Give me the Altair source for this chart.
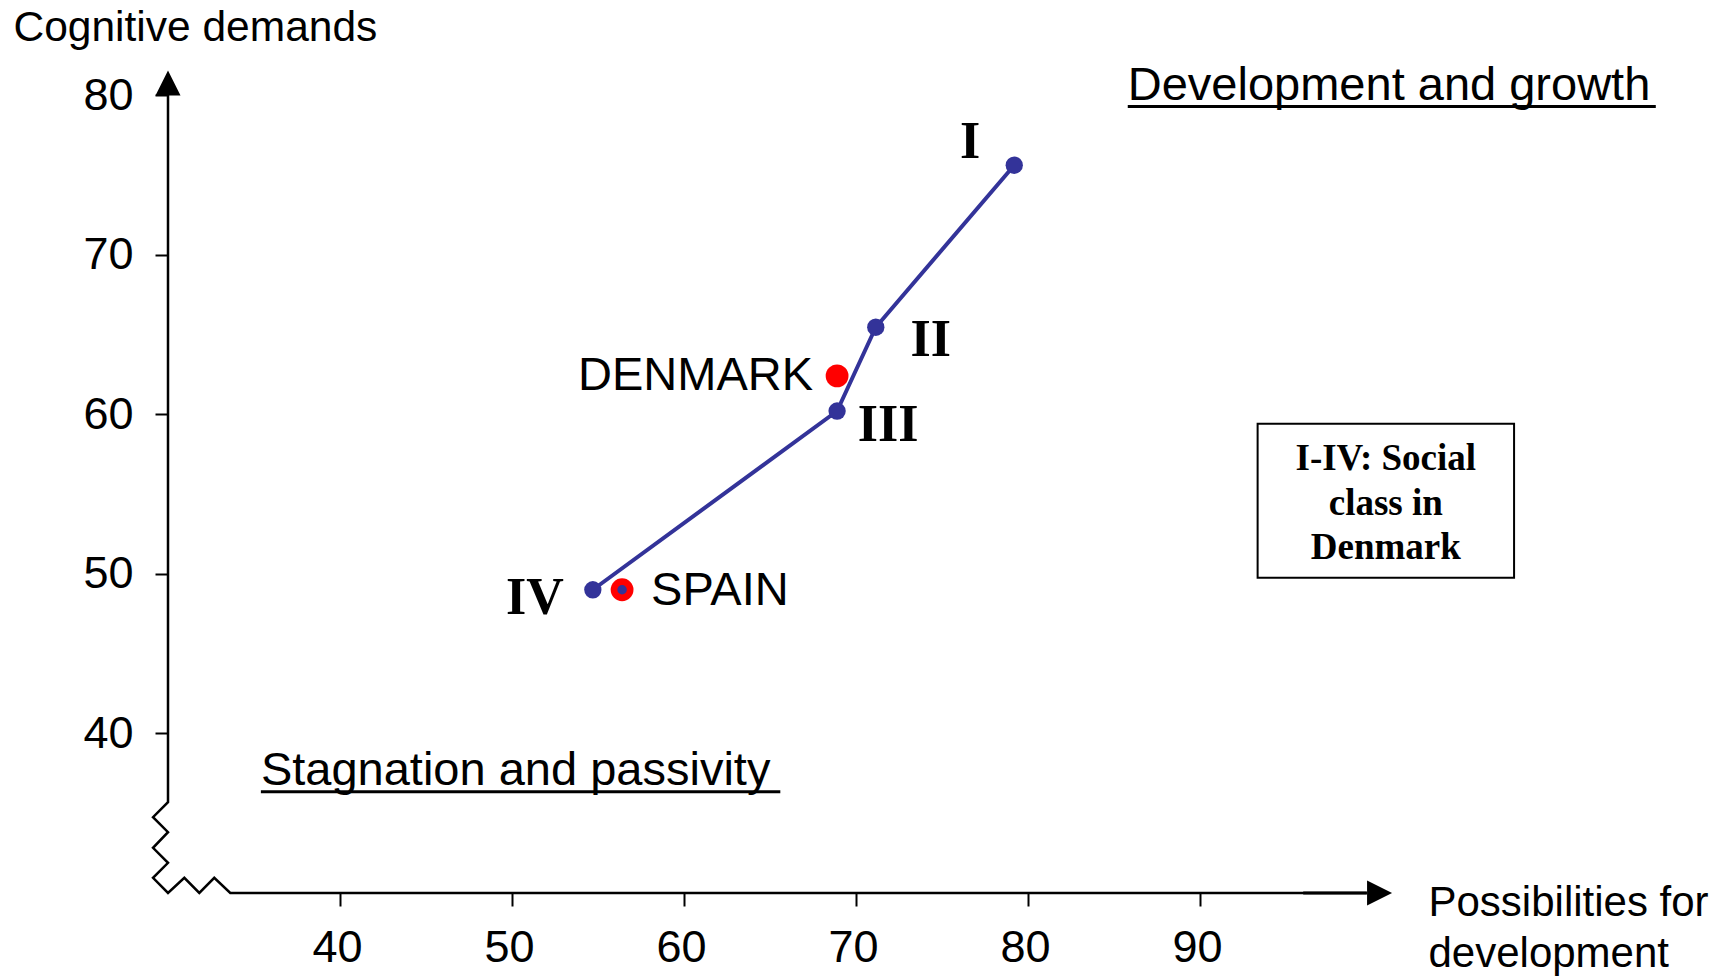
import altair as alt
import pandas as pd

# ---- data ----
classes = ["I", "II", "III", "IV"]
class_x = [79.2, 71.15, 68.9, 54.7]
class_y = [75.6, 65.45, 60.2, 49.0]

countries = ["DENMARK", "SPAIN"]
country_x = [68.9, 56.4]
country_y = [62.4, 49.0]

x_ticks = [40, 50, 60, 70, 80, 90]
y_ticks = [40, 50, 60, 70, 80]

x_title = ["Possibilities for", "development"]
y_title = "Cognitive demands"
legend_lines = "I-IV: Social\nclass in\nDenmark"
corner_top = "Development and growth"
corner_bottom = "Stagnation and passivity"

# ---- annotation layout (data coordinates) ----
axis_path_x = [30, 30, 29.13, 30, 29.13, 30, 29.13, 30, 30.95, 31.82, 32.69, 33.62, 99.7]
axis_path_y = [80, 35.69, 34.75, 33.81, 32.83, 31.89, 30.95, 30, 30.95, 30, 30.95, 30, 30]

BLUE = "#333399"
RED = "#FF0000"
SANS = "Liberation Sans"
SERIF = "Liberation Serif"

X_DOMAIN = [30, 100]
Y_DOMAIN = [30, 80]

xs = alt.Scale(domain=X_DOMAIN, nice=False, zero=False)
ys = alt.Scale(domain=Y_DOMAIN, nice=False, zero=False)

x_axis = alt.Axis(
    values=x_ticks, domain=False, grid=False,
    tickSize=13, tickWidth=2, tickColor="black",
    labelFont=SANS, labelFontSize=45, labelColor="black", labelPadding=19,
    labelFlush=False, labelOffset=-3,
    title=x_title, titleAngle=0, titleAlign="left", titleBaseline="alphabetic",
    titleX=1260, titleY=22, titleLineHeight=51,
    titleFont=SANS, titleFontSize=42, titleFontWeight="normal", titleColor="black",
)
y_axis = alt.Axis(
    values=y_ticks, domain=False, grid=False,
    tickSize=13, tickWidth=2, tickColor="black",
    labelFont=SANS, labelFontSize=45, labelColor="black", labelPadding=22,
    title=y_title, titleAngle=0, titleAlign="left", titleBaseline="alphabetic",
    titleX=-155, titleY=-55,
    titleFont=SANS, titleFontSize=42.5, titleFontWeight="normal", titleColor="black",
)

X = alt.X("x:Q", scale=xs, axis=x_axis)
Y = alt.Y("y:Q", scale=ys, axis=y_axis)

df_class = pd.DataFrame({"label": classes, "x": class_x, "y": class_y, "i": range(len(classes))})
df_country = pd.DataFrame({"label": countries, "x": country_x, "y": country_y})
df_axis = pd.DataFrame({"x": axis_path_x, "y": axis_path_y, "i": range(len(axis_path_x))})

# axis lines with break zigzag
axis_line = alt.Chart(df_axis).mark_line(color="black", strokeWidth=2.5).encode(
    x=X, y=Y, order="i:Q")

arrow_seg = alt.Chart(pd.DataFrame({"x": [96.0], "x2": [99.7], "y": [30.0]})).mark_rule(
    color="black", strokeWidth=3).encode(x=X, x2="x2:Q", y=Y)

arrow_up = alt.Chart(pd.DataFrame({"x": [30.0], "y": [80.75]})).mark_point(
    shape="M0,-1L1,1L-1,1Z", filled=True, size=625, color="black", opacity=1).encode(x=X, y=Y)
arrow_right = alt.Chart(pd.DataFrame({"x": [100.44], "y": [30.0]})).mark_point(
    shape="M1,0L-1,-1L-1,1Z", filled=True, size=625, color="black", opacity=1).encode(x=X, y=Y)

# class series
cls_line = alt.Chart(df_class).mark_line(color=BLUE, strokeWidth=4).encode(x=X, y=Y, order="i:Q")
cls_pts = alt.Chart(df_class).mark_point(filled=True, size=300, color=BLUE, opacity=1).encode(x=X, y=Y)

label_dx = {"I": -44, "II": 55, "III": 51, "IV": -58}
label_dy = {"I": -23, "II": 13, "III": 14, "IV": 8}
cls_labels = [
    alt.Chart(df_class).transform_filter(alt.datum.label == c).mark_text(
        font=SERIF, fontWeight="bold", fontSize=52, color="black",
        align="center", baseline="middle", dx=label_dx[c], dy=label_dy[c]
    ).encode(x=X, y=Y, text="label:N")
    for c in classes
]

# countries
ctry_pts = alt.Chart(df_country).mark_point(filled=True, size=520, color=RED, opacity=1).encode(x=X, y=Y)
spain_inner = alt.Chart(df_country).transform_filter(alt.datum.label == "SPAIN").mark_point(
    filled=True, size=90, color=BLUE, opacity=1).encode(x=X, y=Y)
dk_text = alt.Chart(df_country).transform_filter(alt.datum.label == "DENMARK").mark_text(
    font=SANS, fontSize=47, color="black", align="right", baseline="middle", dx=-24, dy=0
).encode(x=X, y=Y, text="label:N")
es_text = alt.Chart(df_country).transform_filter(alt.datum.label == "SPAIN").mark_text(
    font=SANS, fontSize=47, color="black", align="left", baseline="middle", dx=29, dy=1
).encode(x=X, y=Y, text="label:N")

# corner annotations with underline
corner_df = pd.DataFrame({"text": [corner_top, corner_bottom], "x": [85.8, 35.4], "y": [79.69, 36.74]})
corner_txt = alt.Chart(corner_df).mark_text(
    font=SANS, fontSize=47, color="black", align="left", baseline="alphabetic"
).encode(x=X, y=Y, text="text:N")
under_df = pd.DataFrame({"x": [85.8, 35.4], "x2": [116.5, 65.6], "y": [79.28, 36.34]})
underline = alt.Chart(under_df).mark_rule(color="black", strokeWidth=3).encode(x=X, x2="x2:Q", y=Y)

# legend box
box_df = pd.DataFrame({"x": [93.35], "x2": [108.26], "y": [59.4], "y2": [49.75]})
box = alt.Chart(box_df).mark_rect(fill="white", stroke="black", strokeWidth=2).encode(
    x=X, x2="x2:Q", y=Y, y2="y2:Q")
box_txt = alt.Chart(pd.DataFrame({"text": [legend_lines], "x": [100.8], "y": [58.3]})).mark_text(
    font=SERIF, fontWeight="bold", fontSize=37, color="black", align="center", baseline="top",
    lineBreak="\n", lineHeight=44.5
).encode(x=X, y=Y, text="text:N")

chart = alt.layer(
    axis_line, arrow_seg, arrow_up, arrow_right,
    corner_txt, underline, box, box_txt,
    cls_line, cls_pts, *cls_labels,
    ctry_pts, spain_inner, dk_text, es_text,
).properties(
    width=1204, height=798,
    autosize=alt.AutoSizeParams(type="none"),
    padding={"left": 160, "top": 87, "right": 340, "bottom": 86},
    background="white",
).configure_view(stroke=None)

chart.save("out.html", embed_options={"renderer": "svg", "actions": False})
